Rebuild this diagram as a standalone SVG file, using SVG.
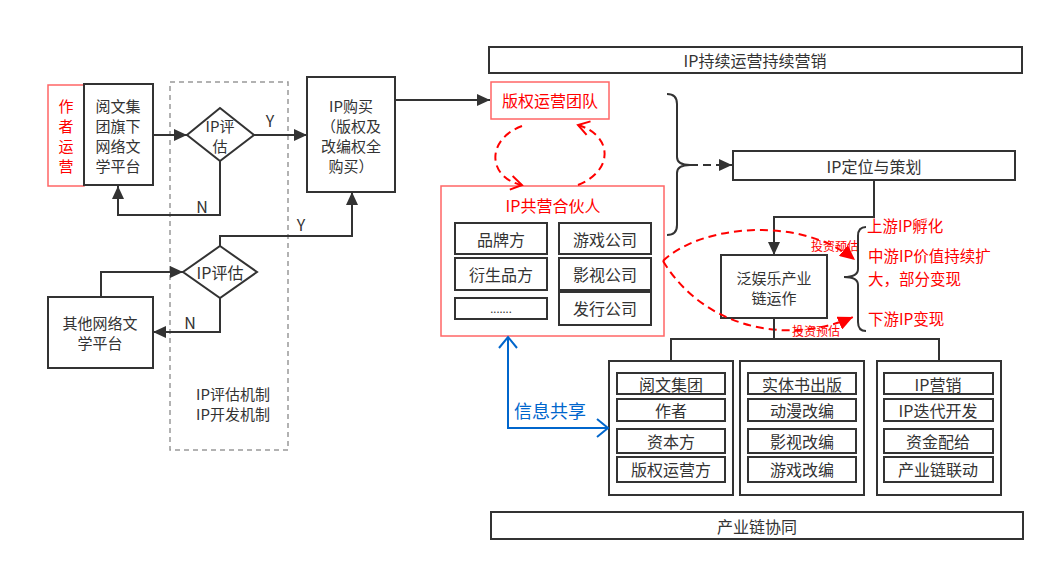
<svg xmlns="http://www.w3.org/2000/svg" width="1055" height="571" viewBox="0 0 1055 571">
<style>
text{font-family:"Noto Sans CJK SC","Noto Sans",sans-serif;font-size:16px;fill:#333;text-anchor:middle;dominant-baseline:central}
.m{font-size:15px}
.b{fill:#fff;stroke:#333;stroke-width:2}
.rb{fill:#fff;stroke:#f66;stroke-width:1.5}
.r{fill:#f00}
.rl{fill:#f00;text-anchor:start;font-size:15.5px}
.s{font-size:12px;fill:#f00;text-anchor:start}
.ln{fill:none;stroke:#333;stroke-width:2}
.rd{fill:none;stroke:#f00;stroke-width:2;stroke-dasharray:8 5}
</style>
<defs>
<marker id="ah" markerUnits="userSpaceOnUse" markerWidth="14" markerHeight="12" refX="13" refY="6" orient="auto"><path d="M0,0 L13,6 L0,12 z" fill="#333"/></marker>
<marker id="rh" markerUnits="userSpaceOnUse" markerWidth="16" markerHeight="14" refX="15" refY="7" orient="auto"><path d="M0,0 L15,7 L0,14 z" fill="#f00"/></marker>
<marker id="rc" markerUnits="userSpaceOnUse" markerWidth="14" markerHeight="16" refX="12" refY="8" orient="auto"><path d="M1,1 L12,8 L1,15" fill="none" stroke="#f00" stroke-width="2"/></marker>
<marker id="bc" markerUnits="userSpaceOnUse" markerWidth="14" markerHeight="20" refX="12" refY="10" orient="auto-start-reverse"><path d="M1,1 L12,10 L1,19" fill="none" stroke="#0066cc" stroke-width="2"/></marker>
</defs>

<g id="mechanism">
<rect x="170" y="82" width="118" height="368" fill="none" stroke="#999" stroke-width="1.5" stroke-dasharray="5 4"/>
<text class="m" x="233" y="393">IP评估机制</text>
<text class="m" x="233" y="413">IP开发机制</text>
</g>

<g id="author-op">
<rect class="rb" x="48" y="85" width="36" height="101"/>
<text class="m r" x="66" y="105">作</text>
<text class="m r" x="66" y="125">者</text>
<text class="m r" x="66" y="145">运</text>
<text class="m r" x="66" y="165">营</text>
</g>
<g id="yuewen">
<rect class="b" x="84" y="84" width="69" height="101"/>
<text class="m" x="118" y="105">阅文集</text>
<text class="m" x="118" y="125">团旗下</text>
<text class="m" x="118" y="145">网络文</text>
<text class="m" x="118" y="165">学平台</text>
</g>
<g id="eval1">
<polygon class="b" points="220,108 254,135 220,161 187,135"/>
<text class="m" x="220" y="125">IP评</text>
<text class="m" x="220" y="145">估</text>
</g>
<g id="buy">
<rect class="b" x="307" y="77" width="88" height="115"/>
<text class="m" x="351" y="105">IP购买</text>
<text class="m" x="351" y="125">（版权及</text>
<text class="m" x="351" y="145">改编权全</text>
<text class="m" x="351" y="165">购买）</text>
</g>
<g id="eval2">
<polygon class="b" points="220,246 257,272 220,298 183,272"/>
<text x="220" y="272">IP评估</text>
</g>
<g id="other">
<rect class="b" x="48" y="297" width="105" height="71"/>
<text class="m" x="100" y="322">其他网络文</text>
<text class="m" x="100" y="342">学平台</text>
</g>

<g id="title-top">
<rect class="b" x="489" y="47" width="533" height="26"/>
<text x="755" y="60">IP持续运营持续营销</text>
</g>
<g id="copyright-team">
<rect class="rb" x="491" y="82" width="118" height="37"/>
<text class="r" x="550" y="100">版权运营团队</text>
</g>
<g id="partners">
<rect class="rb" x="441" y="186" width="223" height="150"/>
<text class="r" x="553" y="205">IP共营合伙人</text>
<rect class="b" x="455" y="223" width="92" height="31"/><text x="501" y="239">品牌方</text>
<rect class="b" x="455" y="258" width="92" height="32"/><text x="501" y="274">衍生品方</text>
<rect class="b" x="455" y="298" width="92" height="21"/><text x="501" y="308" style="font-size:11px">.......</text>
<rect class="b" x="559" y="223" width="92" height="31"/><text x="605" y="239">游戏公司</text>
<rect class="b" x="559" y="258" width="92" height="32"/><text x="605" y="274">影视公司</text>
<rect class="b" x="559" y="292" width="92" height="33"/><text x="605" y="308">发行公司</text>
</g>
<g id="positioning">
<rect class="b" x="733" y="151" width="282" height="29"/>
<text x="874" y="166">IP定位与策划</text>
</g>
<g id="pan-ent">
<rect class="b" x="721" y="255" width="106" height="63"/>
<text class="m" x="774" y="277">泛娱乐产业</text>
<text class="m" x="774" y="297">链运作</text>
</g>
<g id="stages">
<text class="rl" x="867" y="225">上游IP孵化</text>
<text class="rl" x="868" y="255">中游IP价值持续扩</text>
<text class="rl" x="868" y="278">大，部分变现</text>
<text class="rl" x="868" y="318">下游IP变现</text>
<text class="s" x="811" y="245">投资预估</text>
<text class="s" x="792" y="330">投资预估</text>
</g>
<g id="col1">
<rect class="b" x="609" y="361" width="124" height="134"/>
<rect class="b" x="617" y="373" width="108" height="21"/><text x="671" y="384">阅文集团</text>
<rect class="b" x="617" y="399" width="108" height="22"/><text x="671" y="410">作者</text>
<rect class="b" x="617" y="429" width="108" height="24"/><text x="671" y="441">资本方</text>
<rect class="b" x="617" y="457" width="108" height="25"/><text x="671" y="469">版权运营方</text>
</g>
<g id="col2">
<rect class="b" x="740" y="361" width="124" height="134"/>
<rect class="b" x="748" y="373" width="108" height="21"/><text x="802" y="384">实体书出版</text>
<rect class="b" x="748" y="399" width="108" height="22"/><text x="802" y="410">动漫改编</text>
<rect class="b" x="748" y="429" width="108" height="24"/><text x="802" y="441">影视改编</text>
<rect class="b" x="748" y="457" width="108" height="25"/><text x="802" y="469">游戏改编</text>
</g>
<g id="col3">
<rect class="b" x="877" y="361" width="124" height="134"/>
<rect class="b" x="884" y="373" width="109" height="21"/><text x="938" y="384">IP营销</text>
<rect class="b" x="884" y="399" width="109" height="22"/><text x="938" y="410">IP迭代开发</text>
<rect class="b" x="884" y="429" width="109" height="24"/><text x="938" y="441">资金配给</text>
<rect class="b" x="884" y="457" width="109" height="25"/><text x="938" y="469">产业链联动</text>
</g>
<g id="title-bottom">
<rect class="b" x="491" y="512" width="532" height="27"/>
<text x="757" y="526">产业链协同</text>
</g>
<g id="info-share">
<text x="550" y="410" style="font-size:18px;fill:#0066cc">信息共享</text>
</g>

<g id="connectors">
<path class="ln" d="M153,135 H187" marker-end="url(#ah)"/>
<path class="ln" d="M254,135 H307" marker-end="url(#ah)"/>
<text x="270" y="120">Y</text>
<path class="ln" d="M220,161 V215 H118 V186" marker-end="url(#ah)"/>
<text x="202" y="206">N</text>
<path class="ln" d="M220,246 V236 H352 V192" marker-end="url(#ah)"/>
<text x="301" y="224">Y</text>
<path class="ln" d="M101,297 V272 H183" marker-end="url(#ah)"/>
<path class="ln" d="M220,298 V332 H153" marker-end="url(#ah)"/>
<text x="190" y="322">N</text>
<path class="ln" d="M395,100 H490" marker-end="url(#ah)"/>
<path class="rd" d="M522,126 C485,140 488,178 522,185" marker-end="url(#rc)"/>
<path class="rd" d="M578,185 C615,170 612,135 578,125" marker-end="url(#rc)"/>
<path class="ln" d="M667,94 C674,94 677,97 677,104 V157 C677,163 682,165 690,165 C682,165 677,167 677,173 V225 C677,232 674,235 667,235"/>
<path class="ln" d="M690,165 H732" stroke-dasharray="8 5" marker-end="url(#ah)"/>
<path class="ln" d="M874,180 V217 H774 V255" marker-end="url(#ah)"/>
<path class="ln" d="M866,227 C861,227 858,230 858,236 V269 C858,275 852,277 844,277 C852,277 858,279 858,285 V322 C858,328 861,331 866,331"/>
<path class="rd" d="M663,261 C700,225 800,215 855,260" marker-end="url(#rh)"/>
<path class="rd" d="M663,261 C705,330 790,345 853,317" marker-end="url(#rh)"/>
<path class="ln" d="M774,318 V339 M671,361 V339 H939 V361"/>
<path d="M508,337 V428 H608" fill="none" stroke="#0066cc" stroke-width="2" marker-start="url(#bc)" marker-end="url(#bc)"/>
</g>
</svg>
